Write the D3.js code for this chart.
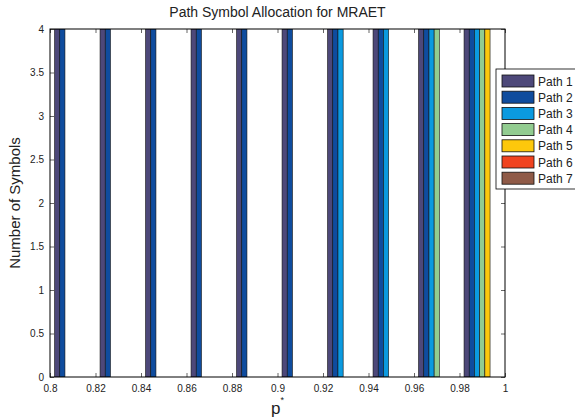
<!DOCTYPE html>
<html>
<head>
<meta charset="utf-8">
<script src="https://cdn.jsdelivr.net/npm/d3@7"></script>
<style>
body { margin: 0; background: #fff; }
text { font-family: "Liberation Sans", Arial, sans-serif; }
</style>
</head>
<body>
<div id="chart"></div>
<script>
// data
var groups = [0.81, 0.83, 0.85, 0.87, 0.89, 0.91, 0.93, 0.95, 0.97, 0.99];
var paths = ["Path 1", "Path 2", "Path 3", "Path 4", "Path 5", "Path 6", "Path 7"];
var colors = ["#4d4879", "#0f4c9e", "#0b9ae0", "#92cc90", "#fdc80c", "#f0431f", "#8f5a47"];
// symbols per path, one row per group (clipped at 4 in the picture)
var path1 = [4, 4, 4, 4, 4, 4, 4, 4, 4, 4];
var path2 = [4, 4, 4, 4, 4, 4, 4, 4, 4, 4];
var path3 = [0, 0, 0, 0, 0, 0, 4, 4, 4, 4];
var path4 = [0, 0, 0, 0, 0, 0, 0, 0, 4, 4];
var path5 = [0, 0, 0, 0, 0, 0, 0, 0, 0, 4];
var path6 = [0, 0, 0, 0, 0, 0, 0, 0, 0, 0];
var path7 = [0, 0, 0, 0, 0, 0, 0, 0, 0, 0];
var series = [path1, path2, path3, path4, path5, path6, path7];
var xTicks = [0.8, 0.82, 0.84, 0.86, 0.88, 0.9, 0.92, 0.94, 0.96, 0.98, 1];
var yTicks = [0, 0.5, 1, 1.5, 2, 2.5, 3, 3.5, 4];

var svgWidth = 575, svgHeight = 420;
var margin = { top: 29, left: 50, bottom: 43, right: 70 };
var width = svgWidth - margin.left - margin.right;
var height = svgHeight - margin.top - margin.bottom;

var svg = d3.select("#chart").append("svg")
	.attr("width", svgWidth).attr("height", svgHeight);

var chartGroup = svg.append("g")
	.attr("transform", `translate(${margin.left}, ${margin.top})`);

var x = d3.scaleLinear().domain([0.8, 1]).range([0, width]);
var y = d3.scaleLinear().domain([0, 4]).range([height, 0]);

// bar positions inside a group
var groupW = x(0.8 + 0.016) - x(0.8);
var inner = d3.scaleBand().domain(d3.range(paths.length)).range([-groupW / 2, groupW / 2]);

chartGroup.append("clipPath").attr("id", "clip")
	.append("rect").attr("width", width).attr("height", height);

var bars = [];
series.forEach(function(vals, s) {
	vals.forEach(function(v, g) {
		if (v > 0) bars.push({ s: s, g: groups[g], v: v });
	});
});

chartGroup.append("g").attr("clip-path", "url(#clip)")
	.selectAll("rect")
	.data(bars)
	.enter()
	.append("rect")
	.attr("x", d => x(d.g) + inner(d.s))
	.attr("width", inner.bandwidth())
	.attr("y", d => y(d.v))
	.attr("height", d => y(0) - y(d.v))
	.attr("fill", d => colors[d.s])
	.attr("stroke", "#111")
	.attr("stroke-width", 0.6);

// axes (ticks pointing in, MATLAB style)
var bottomAxis = d3.axisBottom(x).tickValues(xTicks).tickSize(-4).tickPadding(8)
	.tickFormat(d => d3.format("")(+d.toFixed(2)));
var leftAxis = d3.axisLeft(y).tickValues(yTicks).tickSize(-4).tickPadding(6)
	.tickFormat(d => d3.format("")(d));
var topAxis = d3.axisTop(x).tickValues(xTicks).tickSize(-4).tickFormat("");
var rightAxis = d3.axisRight(y).tickValues(yTicks).tickSize(-4).tickFormat("");

function styleAxis(g) {
	g.select(".domain").remove();
	g.selectAll("line").attr("stroke", "#000").attr("stroke-width", 0.6);
	g.selectAll("text").attr("fill", "#222").style("font-size", "10px");
}

chartGroup.append("g").attr("transform", `translate(0, ${height})`).call(bottomAxis).call(styleAxis);
chartGroup.append("g").call(leftAxis).call(styleAxis);
chartGroup.append("g").call(topAxis).call(styleAxis);
chartGroup.append("g").attr("transform", `translate(${width}, 0)`).call(rightAxis).call(styleAxis);

chartGroup.append("rect")
	.attr("width", width).attr("height", height)
	.attr("fill", "none").attr("stroke", "#000").attr("stroke-width", 1);

// title and labels
svg.append("text")
	.attr("x", margin.left + width / 2).attr("y", 17)
	.attr("text-anchor", "middle")
	.style("font-size", "14px").attr("fill", "#222")
	.text("Path Symbol Allocation for MRAET");

svg.append("text")
	.attr("transform", `translate(20, ${margin.top + height / 2}) rotate(-90)`)
	.attr("text-anchor", "middle")
	.style("font-size", "15px").attr("fill", "#222")
	.text("Number of Symbols");

var xl = svg.append("text")
	.attr("x", margin.left + width / 2).attr("y", 414)
	.attr("text-anchor", "middle")
	.style("font-size", "17px").attr("fill", "#222");
xl.append("tspan").text("p");
xl.append("tspan").attr("dy", -11).style("font-size", "9px").text("*");

// legend
var legend = svg.append("g").attr("transform", "translate(496, 69)");
legend.append("rect")
	.attr("width", 84).attr("height", 120)
	.attr("fill", "#fff").attr("stroke", "#000").attr("stroke-width", 0.8);

var items = legend.selectAll(".item")
	.data(paths)
	.enter()
	.append("g")
	.attr("transform", (d, i) => `translate(6, ${6 + i * 16.2})`);

items.append("rect")
	.attr("width", 32).attr("height", 12)
	.attr("fill", (d, i) => colors[i])
	.attr("stroke", "#111").attr("stroke-width", 0.8);

items.append("text")
	.attr("x", 36).attr("y", 10.5)
	.style("font-size", "12px").attr("fill", "#222")
	.text(d => d);
</script>
</body>
</html>
